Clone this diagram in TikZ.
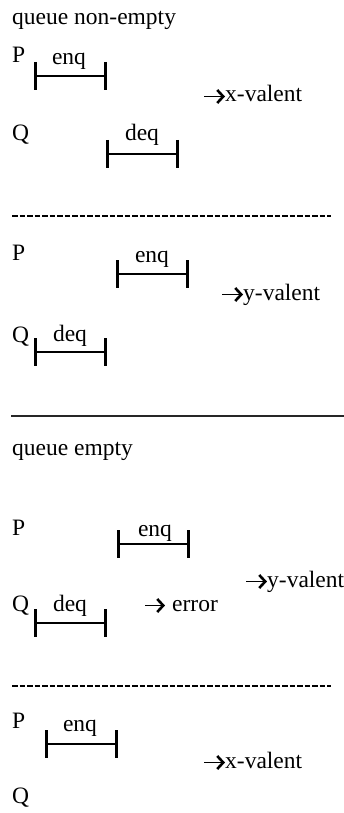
\documentclass[tikz,border=0pt]{standalone}
\usepackage{fontspec}
\setmainfont{Liberation Serif}
\usetikzlibrary{arrows.meta}
\begin{document}
\begin{tikzpicture}[x=1pt,y=-1pt,
  txt/.style={anchor=base west,inner sep=0pt,font=\fontsize{23.5}{28}\selectfont},
  lbl/.style={anchor=base,inner sep=0pt,font=\fontsize{23.5}{28}\selectfont},
  ivl/.pic={
    \draw[line width=2pt] (0,0) -- (70,0);
    \draw[line width=3pt] (0,-14) -- (0,14);
    \draw[line width=3pt] (70,-14) -- (70,14);
  },
  arr/.style={line width=1.7pt,-{Straight Barb[length=6pt,width=13pt,line width=2.6pt]}},
  sep/.style={line width=1.3pt,dash pattern=on 5.6pt off 1.9pt},
  solidsep/.style={line width=1.5pt,draw=black!85}]
\useasboundingbox (0,0) rectangle (344,813);
% ---- queue non-empty, case 1
\node[txt] (t1) at (12,25) {queue non-empty};
\node[txt] (p1) at (12,63) {P};
\pic at (35,76) {ivl};
\node[lbl] (e1) at (69,65) {enq};
\node[txt] (r1) at (225,102) {x-valent};
\coordinate (a1) at (204,96.5);
\draw[arr] (a1) -- (a1 -| r1.west);
\node[txt] (q1) at (12,141) {Q};
\pic at (107,154) {ivl};
\node[lbl] (d1) at (142,141) {deq};
% separator
\coordinate (s1a) at (12,216); \coordinate (s1b) at (331,216);
\draw[sep] (s1a) -- (s1b);
% ---- case 2
\node[txt] (p2) at (12,260) {P};
\pic at (117,274) {ivl};
\node[lbl] (e2) at (152,262) {enq};
\node[txt] (r2) at (243,300) {y-valent};
\coordinate (a2) at (222,294.5);
\draw[arr] (a2) -- (a2 -| r2.west);
\node[txt] (q2) at (12,342) {Q};
\pic at (35,352) {ivl};
\node[lbl] (d2) at (70,341) {deq};
% solid separator
\coordinate (s2a) at (11,416); \coordinate (s2b) at (344,416);
\draw[solidsep] (s2a) -- (s2b);
% ---- queue empty, case 3
\node[txt] (t2) at (12,455) {queue empty};
\node[txt] (p3) at (12,535) {P};
\pic at (118,544) {ivl};
\node[lbl] (e3) at (155,536) {enq};
\node[txt] (r3) at (267,587) {y-valent};
\coordinate (a3) at (246,581.5);
\draw[arr] (a3) -- (a3 -| r3.west);
\node[txt] (q3) at (12,611) {Q};
\pic at (35,623) {ivl};
\node[lbl] (d3) at (70,611) {deq};
\node[txt] (err) at (172,611) {error};
\coordinate (a4) at (145,605.5);
\coordinate (a4e) at (165,605.5);
\draw[arr] (a4) -- (a4e);
% separator
\coordinate (s3a) at (12,686); \coordinate (s3b) at (331,686);
\draw[sep] (s3a) -- (s3b);
% ---- case 4
\node[txt] (p4) at (12,728) {P};
\pic at (46,744) {ivl};
\node[lbl] (e4) at (80,731) {enq};
\node[txt] (r4) at (225,768) {x-valent};
\coordinate (a5) at (204,762.5);
\draw[arr] (a5) -- (a5 -| r4.west);
\node[txt] (q4) at (12,803) {Q};
\end{tikzpicture}
\end{document}
